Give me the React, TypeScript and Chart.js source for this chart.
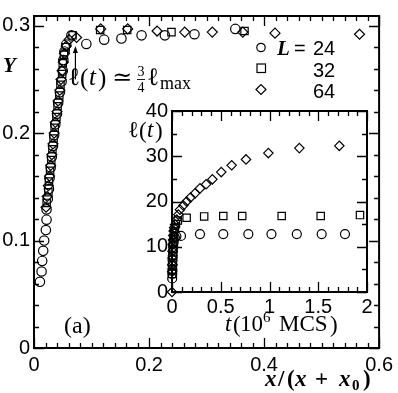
import React, { useEffect, useRef } from 'react';
import { Chart, registerables } from 'chart.js';
Chart.register(...registerables);

// ---- Main panel data: Y vs x/(x+x0) ----
const mainXTicks = [0, 0.2, 0.4, 0.6];
const mainYTicks = [0, 0.1, 0.2, 0.3];

const l24X = [0.0103, 0.0132, 0.0142, 0.016, 0.0177, 0.0206, 0.0218, 0.0218, 0.024, 0.026, 0.027, 0.029, 0.031, 0.033, 0.035, 0.037, 0.040, 0.042, 0.045, 0.048, 0.050, 0.051, 0.053, 0.056, 0.065, 0.091, 0.122, 0.152, 0.187, 0.2275, 0.279, 0.350];
const l24Y = [0.0616, 0.0712, 0.081, 0.0904, 0.100, 0.1098, 0.1194, 0.129, 0.139, 0.148, 0.158, 0.168, 0.178, 0.188, 0.198, 0.208, 0.218, 0.228, 0.238, 0.248, 0.258, 0.268, 0.276, 0.2825, 0.291, 0.283, 0.287, 0.288, 0.291, 0.291, 0.292, 0.297];

const l32X = [0.022, 0.025, 0.026, 0.028, 0.030, 0.032, 0.034, 0.036, 0.039, 0.041, 0.044, 0.046, 0.049, 0.050, 0.052, 0.055, 0.067, 0.115, 0.162, 0.239, 0.366];
const l32Y = [0.135, 0.145, 0.155, 0.165, 0.175, 0.185, 0.195, 0.205, 0.215, 0.225, 0.235, 0.245, 0.255, 0.265, 0.273, 0.280, 0.291, 0.296, 0.296, 0.294, 0.295];

const l64X = [0.021, 0.023, 0.025, 0.027, 0.029, 0.031, 0.033, 0.035, 0.037, 0.040, 0.042, 0.045, 0.047, 0.049, 0.051, 0.053, 0.056, 0.061, 0.074, 0.116, 0.163, 0.214, 0.262, 0.310, 0.363, 0.419, 0.566];
const l64Y = [0.131, 0.141, 0.151, 0.160, 0.170, 0.180, 0.190, 0.200, 0.210, 0.220, 0.230, 0.240, 0.250, 0.258, 0.266, 0.274, 0.281, 0.287, 0.289, 0.297, 0.297, 0.295, 0.294, 0.294, 0.294, 0.293, 0.292];

// ---- Inset data: l(t) vs t (10^6 MCS) ----
const insetXTicks = [0, 0.5, 1, 1.5, 2];
const insetYTicks = [0, 10, 20, 30, 40];

const i24T = [0.002, 0.003, 0.004, 0.005, 0.006, 0.008, 0.010, 0.012, 0.015, 0.020, 0.030, 0.045, 0.092, 0.287, 0.526, 0.783, 1.02, 1.28, 1.535, 1.774];
const i24L = [3, 4, 5, 6, 7, 8, 9, 10, 10.8, 11.5, 12, 12.3, 12.4, 12.8, 12.8, 12.8, 12.8, 12.8, 12.8, 12.8];

const i32T = [0.002, 0.003, 0.005, 0.007, 0.010, 0.013, 0.017, 0.022, 0.030, 0.040, 0.060, 0.150, 0.330, 0.526, 0.720, 1.125, 1.525, 1.928];
const i32L = [4, 5, 6.5, 8, 9.5, 11, 12, 13, 14, 15, 15.8, 16.4, 16.7, 16.8, 16.8, 16.8, 16.8, 17];

const i64T = [0, 0.002, 0.003, 0.004, 0.006, 0.008, 0.010, 0.013, 0.017, 0.022, 0.031, 0.048, 0.065, 0.082, 0.116, 0.150, 0.190, 0.236, 0.287, 0.350, 0.414, 0.505, 0.612, 0.759, 0.988, 1.306, 1.716];
const i64L = [0, 4.5, 6, 7.5, 9, 10.5, 11.5, 12.5, 13.5, 14.2, 14.9, 16, 17.1, 18.2, 19.1, 20, 20.9, 21.8, 22.9, 23.8, 24.9, 26.5, 28, 29.3, 30.7, 31.8, 32.3];

const legendLabels = ['24', '32', '64'];

const SERIF = '"Liberation Serif", "DejaVu Serif", serif';
const SANS = '"Liberation Sans", Arial, sans-serif';

// text piece placed at an explicit x (page px), baseline y
type Piece = { t: string; f: string; x: number; y: number };
function drawPieces(ctx: CanvasRenderingContext2D, pieces: Piece[], ox = 0, oy = 0) {
  for (const p of pieces) {
    ctx.font = p.f;
    ctx.fillText(p.t, p.x - ox, p.y - oy);
  }
}

function minorList(min: number, max: number, step: number) {
  const out: number[] = [];
  const n = Math.round((max - min) / step);
  for (let i = 0; i <= n; i++) out.push(+(min + i * step).toFixed(6));
  return out;
}

function framePlugin(xMajor: number[], xMinor: number[], yMajor: number[], yMinor: number[], majLen: number, minLen: number) {
  return {
    id: 'frameTicks',
    beforeDatasetsDraw(chart: any) {
      const { ctx, chartArea: a, scales } = chart;
      const xs = scales.x, ys = scales.y;
      ctx.save();
      ctx.strokeStyle = '#000';
      ctx.lineWidth = 1.3;
      ctx.beginPath();
      const tick = (vals: number[], len: number, horiz: boolean) => {
        for (const v of vals) {
          if (horiz) {
            const p = Math.round(xs.getPixelForValue(v)) + 0.5;
            ctx.moveTo(p, a.bottom); ctx.lineTo(p, a.bottom - len);
            ctx.moveTo(p, a.top); ctx.lineTo(p, a.top + len);
          } else {
            const p = Math.round(ys.getPixelForValue(v)) + 0.5;
            ctx.moveTo(a.left, p); ctx.lineTo(a.left + len, p);
            ctx.moveTo(a.right, p); ctx.lineTo(a.right - len, p);
          }
        }
      };
      tick(xMajor, majLen, true);
      tick(xMinor, minLen, true);
      tick(yMajor, majLen, false);
      tick(yMinor, minLen, false);
      ctx.stroke();
      ctx.lineWidth = 2;
      ctx.strokeRect(a.left, a.top, a.right - a.left, a.bottom - a.top);
      ctx.restore();
    },
  };
}

function toPts(xs: number[], ys: number[]) {
  return xs.map((x, i) => ({ x, y: ys[i] }));
}

const hollow = 'rgba(0,0,0,0)';

export default function App() {
  const mainRef = useRef<HTMLCanvasElement>(null);
  const insetRef = useRef<HTMLCanvasElement>(null);

  useEffect(() => {
    const mainText = {
      id: 'mainText',
      afterDraw(chart: any) {
        const { ctx, scales } = chart;
        ctx.save();
        ctx.fillStyle = '#000';
        ctx.strokeStyle = '#000';
        ctx.textBaseline = 'alphabetic';
        ctx.textAlign = 'left';
        const bi = `bold italic 23px ${SERIF}`;
        const b = `bold 23px ${SERIF}`;
        drawPieces(ctx, [
          { t: 'Y', f: `bold italic 21px ${SERIF}`, x: 3, y: 72 },
          // x-axis title
          { t: 'x', f: bi, x: 265, y: 386 },
          { t: '/', f: b, x: 278, y: 386 },
          { t: '(', f: b, x: 287, y: 386 },
          { t: 'x', f: bi, x: 295, y: 386 },
          { t: '+', f: b, x: 315, y: 386 },
          { t: 'x', f: bi, x: 339, y: 386 },
          { t: '0', f: `bold 15px ${SERIF}`, x: 352, y: 390 },
          { t: ')', f: b, x: 363, y: 386 },
          // panel label
          { t: '(a)', f: `24px ${SERIF}`, x: 64, y: 333 },
          // annotation text
          { t: 'ℓ', f: `25px ${SERIF}`, x: 68, y: 85 },
          { t: '(', f: `25px ${SERIF}`, x: 80, y: 86 },
          { t: 't', f: `italic 25px ${SERIF}`, x: 89, y: 85 },
          { t: ')', f: `25px ${SERIF}`, x: 98, y: 86 },
          { t: '≃', f: `24px ${SERIF}`, x: 112, y: 85 },
          { t: '3', f: `14px ${SERIF}`, x: 137.5, y: 76 },
          { t: '4', f: `14px ${SERIF}`, x: 137.5, y: 92 },
          { t: 'ℓ', f: `25px ${SERIF}`, x: 147, y: 85 },
          { t: 'max', f: `18px ${SERIF}`, x: 160, y: 89 },
        ]);
        ctx.lineWidth = 0.9;
        ctx.beginPath(); ctx.moveTo(137, 79.5); ctx.lineTo(145, 79.5); ctx.stroke();
        // annotation arrow
        const ax = scales.x.getPixelForValue(0.072);
        const y0 = scales.y.getPixelForValue(0.25);
        const y1 = scales.y.getPixelForValue(0.281);
        ctx.lineWidth = 1.2;
        ctx.beginPath();
        ctx.moveTo(ax, y0); ctx.lineTo(ax, y1 + 4);
        ctx.stroke();
        ctx.beginPath();
        ctx.moveTo(ax, y1); ctx.lineTo(ax - 2.5, y1 + 7); ctx.lineTo(ax + 2.5, y1 + 7); ctx.closePath();
        ctx.fill();
        // legend
        ctx.lineWidth = 1.2;
        ctx.beginPath(); ctx.arc(261, 47.5, 4.2, 0, Math.PI * 2); ctx.stroke();
        ctx.strokeRect(257, 64, 8.5, 8.5);
        ctx.beginPath();
        ctx.moveTo(256, 89.5); ctx.lineTo(261, 84.5); ctx.lineTo(266, 89.5); ctx.lineTo(261, 94.5); ctx.closePath(); ctx.stroke();
        drawPieces(ctx, [
          { t: 'L', f: `bold italic 21px ${SERIF}`, x: 277, y: 55 },
          { t: '=', f: `20px ${SANS}`, x: 294, y: 55 },
          { t: legendLabels[0], f: `20px ${SANS}`, x: 313, y: 55 },
          { t: legendLabels[1], f: `20px ${SANS}`, x: 313, y: 77 },
          { t: legendLabels[2], f: `20px ${SANS}`, x: 313, y: 98 },
        ]);
        ctx.restore();
      },
    };

    const main = new Chart(mainRef.current!, {
      type: 'scatter',
      data: {
        datasets: [
          { label: 'L = 24', data: toPts(l24X, l24Y), pointStyle: 'circle', pointRadius: 4.7, borderColor: '#000', backgroundColor: hollow, borderWidth: 1.2, clip: false } as any,
          { label: '32', data: toPts(l32X, l32Y), pointStyle: 'rect', pointRadius: 5.2, borderColor: '#000', backgroundColor: hollow, borderWidth: 1.2, clip: false } as any,
          { label: '64', data: toPts(l64X, l64Y), pointStyle: 'rectRot', pointRadius: 5, borderColor: '#000', backgroundColor: hollow, borderWidth: 1.2, clip: false } as any,
        ],
      },
      options: {
        animation: false,
        responsive: false,
        devicePixelRatio: 1,
        layout: { padding: { left: 0, top: 2, right: 15, bottom: 0 } },
        plugins: { legend: { display: false }, tooltip: { enabled: false } },
        scales: {
          x: {
            type: 'linear', min: 0, max: 0.6,
            grid: { display: false, drawTicks: false },
            border: { display: false },
            afterBuildTicks: (s: any) => { s.ticks = mainXTicks.map((v) => ({ value: v })); },
            afterFit: (s: any) => { s.height = 45; },
            ticks: { color: '#000', padding: 5, maxRotation: 0, font: { family: SANS, size: 20 }, callback: (v: any) => String(+(+v).toFixed(3)) },
          },
          y: {
            type: 'linear', min: 0, max: 0.309,
            grid: { display: false, drawTicks: false },
            border: { display: false },
            afterBuildTicks: (s: any) => { s.ticks = mainYTicks.map((v) => ({ value: v })); },
            afterFit: (s: any) => { s.width = 34; },
            ticks: { color: '#000', padding: 4, font: { family: SANS, size: 20 }, callback: (v: any) => String(+(+v).toFixed(3)) },
          },
        },
      } as any,
      plugins: [framePlugin(mainXTicks, minorList(0, 0.6, 0.02), mainYTicks, minorList(0, 0.3, 0.02), 10, 5), mainText],
    });

    const OX = 120, OY = 95;
    const insetText = {
      id: 'insetText',
      afterDraw(chart: any) {
        const { ctx } = chart;
        ctx.save();
        ctx.fillStyle = '#000';
        ctx.textBaseline = 'alphabetic';
        ctx.textAlign = 'left';
        const r = `23px ${SERIF}`;
        const it = `italic 23px ${SERIF}`;
        drawPieces(ctx, [
          { t: 'ℓ', f: r, x: 128, y: 137 },
          { t: '(', f: r, x: 139, y: 138 },
          { t: 't', f: it, x: 147, y: 137 },
          { t: ')', f: r, x: 155, y: 138 },
          { t: 't', f: it, x: 225, y: 331 },
          { t: '(', f: r, x: 233, y: 332 },
          { t: '10', f: r, x: 240, y: 331 },
          { t: '6', f: `15px ${SERIF}`, x: 263, y: 322 },
          { t: 'MCS', f: r, x: 279, y: 331 },
          { t: ')', f: r, x: 330, y: 332 },
        ], OX, OY);
        ctx.restore();
      },
    };

    const inset = new Chart(insetRef.current!, {
      type: 'scatter',
      data: {
        datasets: [
          { label: '24', data: toPts(i24T, i24L), pointStyle: 'circle', pointRadius: 4.5, borderColor: '#000', backgroundColor: hollow, borderWidth: 1.2, clip: false } as any,
          { label: '32', data: toPts(i32T, i32L), pointStyle: 'rect', pointRadius: 5.2, borderColor: '#000', backgroundColor: hollow, borderWidth: 1.2, clip: false } as any,
          { label: '64', data: toPts(i64T, i64L), pointStyle: 'rectRot', pointRadius: 4.7, borderColor: '#000', backgroundColor: hollow, borderWidth: 1.2, clip: false } as any,
        ],
      },
      options: {
        animation: false,
        responsive: false,
        devicePixelRatio: 1,
        layout: { padding: { left: 0, top: 13, right: 18, bottom: 0 } },
        plugins: { legend: { display: false }, tooltip: { enabled: false } },
        scales: {
          x: {
            type: 'linear', min: 0, max: 2,
            grid: { display: false, drawTicks: false },
            border: { display: false },
            afterBuildTicks: (s: any) => { s.ticks = insetXTicks.map((v) => ({ value: v })); },
            afterFit: (s: any) => { s.height = 53; },
            ticks: { color: '#000', padding: 3, maxRotation: 0, font: { family: SANS, size: 20 }, callback: (v: any) => String(v) },
          },
          y: {
            type: 'linear', min: 0, max: 40,
            grid: { display: false, drawTicks: false },
            border: { display: false },
            afterBuildTicks: (s: any) => { s.ticks = insetYTicks.map((v) => ({ value: v })); },
            afterFit: (s: any) => { s.width = 52; },
            ticks: { color: '#000', padding: 4, font: { family: SANS, size: 20 }, callback: (v: any) => String(v) },
          },
        },
      } as any,
      plugins: [framePlugin(insetXTicks, minorList(0, 2, 0.1), insetYTicks, minorList(0, 40, 5), 10, 5), insetText],
    });

    return () => { main.destroy(); inset.destroy(); };
  }, []);

  return (
    <div style={{ position: 'fixed', left: 0, top: 0, width: 398, height: 393, background: '#fff' }}>
      <canvas ref={mainRef} width={398} height={393} style={{ position: 'absolute', left: 0, top: 0, width: 398, height: 393 }} />
      <canvas ref={insetRef} width={265} height={250} style={{ position: 'absolute', left: 120, top: 95, width: 265, height: 250 }} />
    </div>
  );
}
